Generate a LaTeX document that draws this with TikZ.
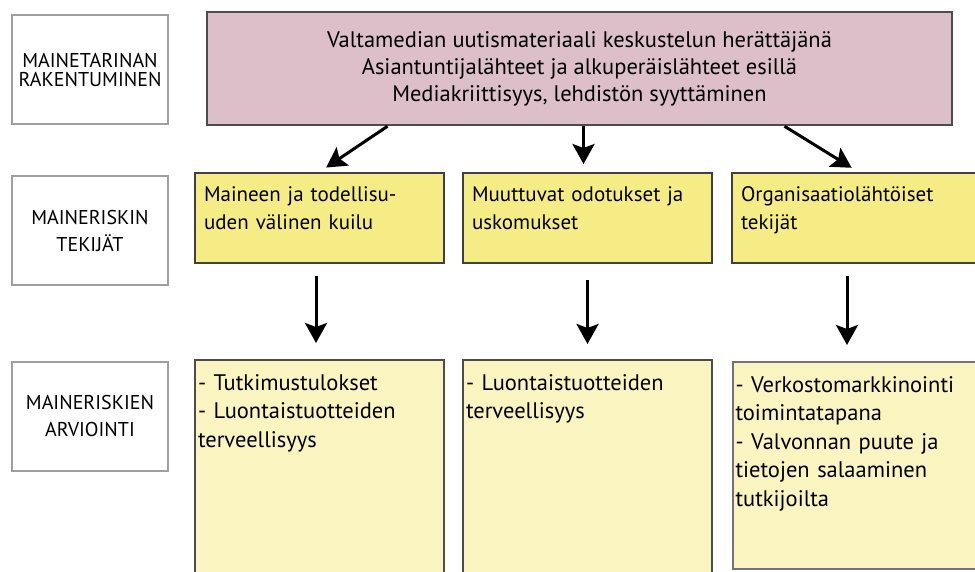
\documentclass[tikz,border=0pt]{standalone}
\usepackage{fontspec}
\setmainfont{PT Sans}
\usetikzlibrary{shapes,arrows,arrows.meta,positioning}
\definecolor{storyfill}{HTML}{DCBFC8}
\definecolor{factorfill}{HTML}{F6EC86}
\definecolor{assessfill}{HTML}{FAF5C0}
\tikzstyle{every node}=[font=\fontsize{22}{28}\selectfont]
\tikzstyle{rowname} = [rectangle, draw=gray!75, line width=2pt, fill=white,
    minimum width=156pt, minimum height=109pt, align=center,
    font=\fontsize{20}{27}\selectfont]
\tikzstyle{story} = [rectangle, draw=black!70, line width=2.5pt, fill=storyfill,
    minimum width=745pt, minimum height=113pt, align=center,
    font=\fontsize{22.5}{27}\selectfont]
\tikzstyle{factor} = [rectangle, draw=black!75, line width=2pt, fill=factorfill,
    inner xsep=9pt, inner ysep=4pt, text width=231pt, text height=25pt, text depth=57pt, align=left,
    font=\fontsize{21}{28}\selectfont]
\tikzstyle{assess} = [rectangle, draw=black!70, line width=2pt, fill=assessfill,
    inner xsep=3pt, inner ysep=4pt, text width=243pt, text height=26pt, text depth=206pt, align=left,
    font=\fontsize{22.5}{28.5}\selectfont]
\tikzstyle{line} = [draw, line width=3pt, -{Stealth[length=20pt,width=22pt,inset=4pt]}]

\begin{document}
\begin{tikzpicture}[x=1pt, y=1pt]
	\useasboundingbox (0,0) rectangle (975,-572);
	% Place nodes
	\node [rowname] at (90,-70) (build) {MAINETARINAN\\[-8pt]RAKENTUMINEN};
	\node [rowname, below of=build, node distance=160.5pt] (makers) {MAINERISKIN\\TEKIJÄT};
	\node [rowname, below of=makers, node distance=185.5pt] (rating) {MAINERISKIEN\\ARVIOINTI};
	\node [story] at (579.5,-68.5) (media) {Valtamedian uutismateriaali keskustelun herättäjänä\\Asiantuntijalähteet ja alkuperäislähteet esillä\\Mediakriittisyys, lehdistön syyttäminen};
	\node [factor] at (319.5,-218) (gap) {Maineen ja todellisu-\\uden välinen kuilu};
	\node [factor, right of=gap, node distance=268pt] (beliefs) {Muuttuvat odotukset ja\\uskomukset};
	\node [factor, right of=beliefs, node distance=271pt, text width=235pt] (orgs) {Organisaatiolähtöiset\\tekijät};
	\node [assess, below of=gap, node distance=262pt] (gaprating) {- Tutkimustulokset\\- Luontaistuotteiden\\terveellisyys};
	\node [assess, below of=beliefs, node distance=262pt] (beliefsrating) {- Luontaistuotteiden\\terveellisyys};
	\node [assess, below of=orgs, node distance=247.5pt, text width=246pt, text depth=173pt, draw=black!55] (orgsrating) {- Verkostomarkkinointi\\toimintatapana\\- Valvonnan puute ja\\tietojen salaaminen\\tutkijoilta};
	% Draw edges
	\path [line, shorten >=8pt] ([xshift=-192pt]media.south) -- (gap.north);
	\path [line, shorten >=8pt] ([xshift=4pt]media.south) -- ([xshift=-4pt]beliefs.north);
	\path [line, shorten >=8pt] ([xshift=205pt]media.south) -- (orgs.north);
	\path [line, shorten <=12pt, shorten >=16pt] ([xshift=-3.5pt]gap.south) -- ([xshift=-3.5pt]gaprating.north);
	\path [line, shorten <=16pt, shorten >=15pt] (beliefs.south) -- (beliefsrating.north);
	\path [line, shorten <=12pt, shorten >=16pt] ([xshift=-11.5pt]orgs.south) -- ([xshift=-11.5pt]orgsrating.north);
\end{tikzpicture}
\end{document}
